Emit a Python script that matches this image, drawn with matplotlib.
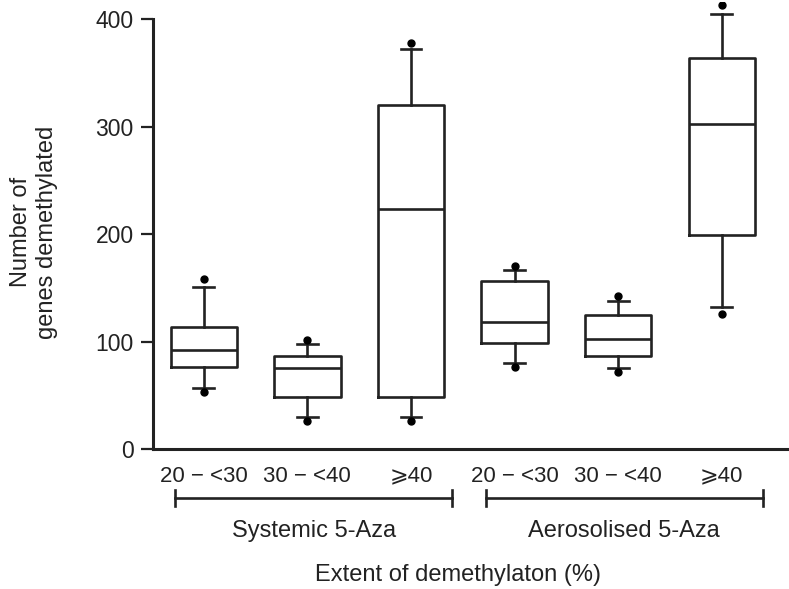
import matplotlib
matplotlib.use("Agg")
import matplotlib.pyplot as plt
import matplotlib.transforms as mtransforms

plt.rcParams['font.family'] = ['Liberation Sans', 'DejaVu Sans']

categories = ["20 − <30", "30 − <40", "⩾40", "20 − <30", "30 − <40", "⩾40"]
groups = ["Systemic 5-Aza", "Aerosolised 5-Aza"]
q1 = [76, 48, 48, 99, 86.5, 199]
med = [92, 75, 223, 118, 102, 302]
q3 = [113.5, 86.5, 320, 156, 124.5, 363.5]
whislo = [57, 29.5, 30, 80, 75, 132]
whishi = [151, 97.5, 372, 166.5, 138, 405]
flier_lo = [53, 26, 26, 76, 71.5, 125.5]
flier_hi = [158, 101, 378, 170, 142.5, 413]
yticks = [0, 100, 200, 300, 400]

W, H = 789, 589
fig = plt.figure(figsize=(W / 100, H / 100), dpi=100)
ax_left, ax_right, ax_bottom, ax_top = 153, 787, 449, 2
ax = fig.add_axes([ax_left / W, 1 - ax_bottom / H, (ax_right - ax_left) / W,
                   (ax_bottom - ax_top) / H])

stats = []
for i in range(len(categories)):
    stats.append(dict(med=med[i], q1=q1[i], q3=q3[i], whislo=whislo[i],
                      whishi=whishi[i], fliers=[flier_lo[i], flier_hi[i]]))
positions = list(range(1, len(categories) + 1))
lw = 1.9
col = '#222222'
ax.bxp(stats, positions=positions, widths=0.64, capwidths=0.2,
       showfliers=True,
       boxprops=dict(color=col, linewidth=lw),
       medianprops=dict(color=col, linewidth=lw),
       whiskerprops=dict(color=col, linewidth=lw),
       capprops=dict(color=col, linewidth=lw),
       flierprops=dict(marker='o', markersize=5, markerfacecolor='black',
                       markeredgecolor='black'))

ax.set_xlim(0.51, 6.63)
ax.set_ylim(0, 416)
ax.set_yticks(yticks)
ax.set_yticklabels([str(t) for t in yticks], fontsize=16.5, color=col)
ax.tick_params(axis='y', length=9, width=1.6, pad=5, color=col)
ax.set_xticks([])
for s in ['top', 'right']:
    ax.spines[s].set_visible(False)
for s in ['left', 'bottom']:
    ax.spines[s].set_linewidth(2.2)
    ax.spines[s].set_color(col)
ax.spines['left'].set_bounds(0, 400)

def fy(py):
    return (ax_bottom - py) / (ax_bottom - ax_top)

trans = mtransforms.blended_transform_factory(ax.transData, ax.transAxes)
for p, lab in zip(positions, categories):
    ax.text(p, fy(476), lab, transform=trans, ha='center', va='center',
            fontsize=16, color=col)

brackets = [(0.72, 3.40), (3.72, 6.40)]
yb = fy(498)
dy = fy(490) - yb
for (x0, x1), g in zip(brackets, groups):
    ax.plot([x0, x1], [yb, yb], transform=trans, color=col, lw=1.9, clip_on=False)
    for xx in (x0, x1):
        ax.plot([xx, xx], [yb - dy, yb + dy], transform=trans, color=col,
                lw=1.9, clip_on=False)
    ax.text((x0 + x1) / 2, fy(531), g, transform=trans, ha='center', va='center',
            fontsize=17, color=col)

fig.text(458 / W, 1 - 575 / H, "Extent of demethylaton (%)", ha='center',
         va='center', fontsize=17, color=col)
fig.text(34 / W, 1 - 232 / H, "Number of\ngenes demethylated", rotation=90,
         ha='center', va='center', fontsize=17, color=col, linespacing=1.2,
         multialignment='center')

fig.savefig("out.png", dpi=100)
